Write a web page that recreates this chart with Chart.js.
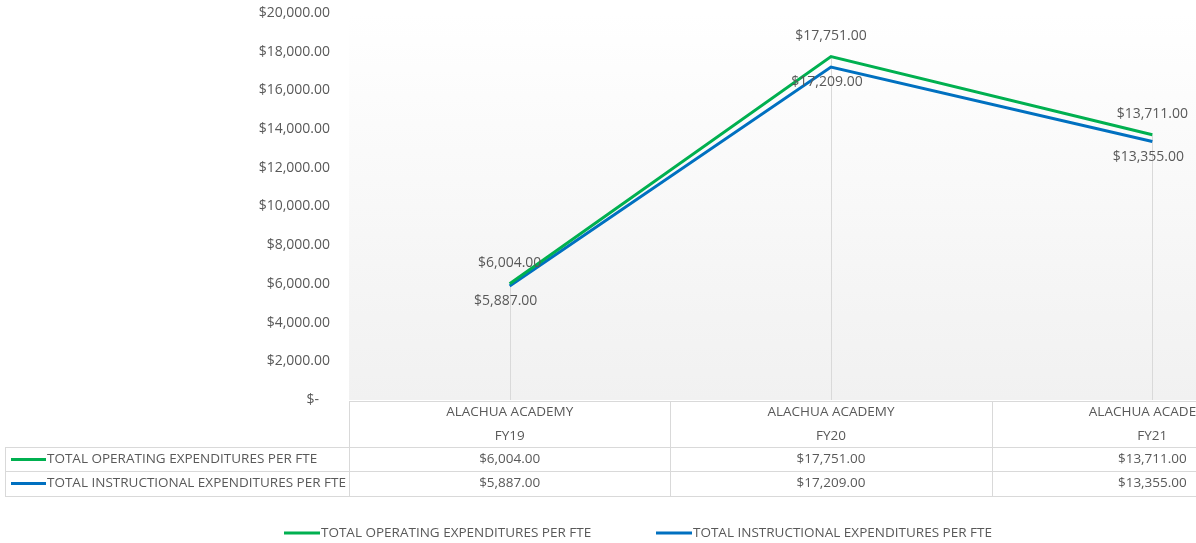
<!DOCTYPE html>
<html>
<head>
<meta charset="utf-8">
<script src="https://cdn.jsdelivr.net/npm/chart.js@4"></script>
<style>
  html, body { margin: 0; padding: 0; background: #fff; overflow: hidden; }
  #wrap { width: 1313px; height: 543px; }
</style>
</head>
<body>
<div id="wrap"><canvas id="chart1" width="1313" height="543"></canvas></div>
<script>
// datos del gráfico
const schools = ['ALACHUA ACADEMY', 'ALACHUA ACADEMY', 'ALACHUA ACADEMY'];
const years = ['FY19', 'FY20', 'FY21'];
const operatingPerFte = [6004, 17751, 13711];
const instructionalPerFte = [5887, 17209, 13355];
const seriesNames = ['TOTAL OPERATING EXPENDITURES PER FTE', 'TOTAL INSTRUCTIONAL EXPENDITURES PER FTE'];
const yTicks = [0, 2000, 4000, 6000, 8000, 10000, 12000, 14000, 16000, 18000, 20000];

const GREEN = '#00B050';
const BLUE = '#0070C0';
const TEXT = '#595959';
const BORDER = '#d9d9d9';
const FONT = "'Open Sans', 'Liberation Sans', sans-serif";

const money = v => v === 0 ? '$-   ' :
  '$' + v.toLocaleString('en-US', { minimumFractionDigits: 2, maximumFractionDigits: 2 });

// plugin: fondo, líneas de caída, etiquetas, tabla de datos y leyenda
const excelLook = {
  id: 'excelLook',
  beforeDatasetsDraw(chart) {
    const { ctx, chartArea: a, scales: { x, y } } = chart;
    ctx.save();
    const g = ctx.createLinearGradient(0, a.top, 0, a.bottom);
    g.addColorStop(0, '#ffffff');
    g.addColorStop(1, '#f1f1f1');
    ctx.fillStyle = g;
    ctx.fillRect(a.left, a.top, a.right - a.left, a.bottom - a.top);
    // drop lines
    ctx.strokeStyle = BORDER;
    ctx.lineWidth = 1;
    operatingPerFte.forEach((v, i) => {
      const px = Math.round(x.getPixelForValue(i)) + 0.5;
      const top = y.getPixelForValue(Math.max(v, instructionalPerFte[i]));
      ctx.beginPath();
      ctx.moveTo(px, top);
      ctx.lineTo(px, a.bottom);
      ctx.stroke();
    });
    ctx.restore();
  },
  afterDatasetsDraw(chart) {
    const { ctx } = chart;
    ctx.save();
    ctx.font = '14px ' + FONT;
    ctx.fillStyle = TEXT;
    ctx.textAlign = 'center';
    ctx.textBaseline = 'middle';
    chart.getDatasetMeta(0).data.forEach((pt, i) => {
      ctx.fillText(money(operatingPerFte[i]), pt.x, pt.y - 21);
    });
    chart.getDatasetMeta(1).data.forEach((pt, i) => {
      ctx.fillText(money(instructionalPerFte[i]), pt.x - 4, pt.y + 15);
    });
    ctx.restore();
  },
  afterDraw(chart) {
    const { ctx, chartArea: a, scales: { x } } = chart;
    const W = chart.width;
    const top = a.bottom + 1, r1 = top + 46, r2 = r1 + 24, r3 = r2 + 25;
    const left = 5;
    const bounds = [a.left];
    for (let i = 1; i <= years.length; i++) {
      bounds.push(i < years.length
        ? (x.getPixelForValue(i - 1) + x.getPixelForValue(i)) / 2
        : a.right);
    }
    ctx.save();
    ctx.strokeStyle = BORDER;
    ctx.lineWidth = 1;
    const h = (y0, x0, x1) => { ctx.beginPath(); ctx.moveTo(x0, Math.round(y0) + 0.5); ctx.lineTo(x1, Math.round(y0) + 0.5); ctx.stroke(); };
    const v = (x0, y0, y1) => { ctx.beginPath(); ctx.moveTo(Math.round(x0) + 0.5, y0); ctx.lineTo(Math.round(x0) + 0.5, y1); ctx.stroke(); };
    h(top, a.left, W);
    h(r1, left, W);
    h(r2, left, W);
    h(r3, left, W);
    v(left, r1, r3);
    bounds.forEach(b => v(b, top, r3));

    ctx.fillStyle = TEXT;
    ctx.font = '13.5px ' + FONT;
    ctx.textBaseline = 'middle';
    ctx.textAlign = 'center';
    years.forEach((yr, i) => {
      const cx = x.getPixelForValue(i);
      ctx.fillText(schools[i], cx, top + 11);
      ctx.fillText(yr, cx, top + 35);
      ctx.fillText(money(operatingPerFte[i]), cx, r1 + 12.5);
      ctx.fillText(money(instructionalPerFte[i]), cx, r2 + 12.5);
    });

    // claves de serie en la tabla
    ctx.textAlign = 'left';
    [[GREEN, r1 + 12.5], [BLUE, r2 + 12.5]].forEach(([c, yy], k) => {
      ctx.strokeStyle = c;
      ctx.lineWidth = 3;
      ctx.beginPath();
      ctx.moveTo(11, yy);
      ctx.lineTo(46, yy);
      ctx.stroke();
      ctx.fillText(seriesNames[k], 47, yy);
    });

    // leyenda inferior
    const ly = 533;
    [[GREEN, 284], [BLUE, 656]].forEach(([c, lx], k) => {
      ctx.strokeStyle = c;
      ctx.lineWidth = 3;
      ctx.beginPath();
      ctx.moveTo(lx, ly);
      ctx.lineTo(lx + 36, ly);
      ctx.stroke();
      ctx.fillText(seriesNames[k], lx + 37, ly);
    });
    ctx.restore();
  }
};

const ctx = document.getElementById('chart1').getContext('2d');
new Chart(ctx, {
  type: 'line',
  data: {
    labels: years,
    datasets: [{
      label: seriesNames[0],
      data: operatingPerFte,
      borderColor: GREEN,
      borderWidth: 3,
      pointRadius: 0,
      tension: 0,
      fill: false
    }, {
      label: seriesNames[1],
      data: instructionalPerFte,
      borderColor: BLUE,
      borderWidth: 3,
      pointRadius: 0,
      tension: 0,
      fill: false
    }]
  },
  options: {
    responsive: false,
    animation: false,
    layout: { padding: { top: 13, bottom: 143, left: 0, right: 0 } },
    scales: {
      x: { display: false, offset: true },
      y: {
        min: 0,
        max: 20000,
        afterBuildTicks: s => { s.ticks = yTicks.map(v => ({ value: v })); },
        afterFit: s => { s.width = 349; s.paddingTop = 0; s.paddingBottom = 0; },
        grid: { display: false, drawTicks: false },
        border: { display: false },
        ticks: {
          padding: 19,
          color: TEXT,
          font: { family: FONT, size: 14 },
          callback: v => money(v)
        }
      }
    },
    plugins: {
      legend: { display: false },
      tooltip: { enabled: false }
    }
  },
  plugins: [excelLook]
});
</script>
</body>
</html>
